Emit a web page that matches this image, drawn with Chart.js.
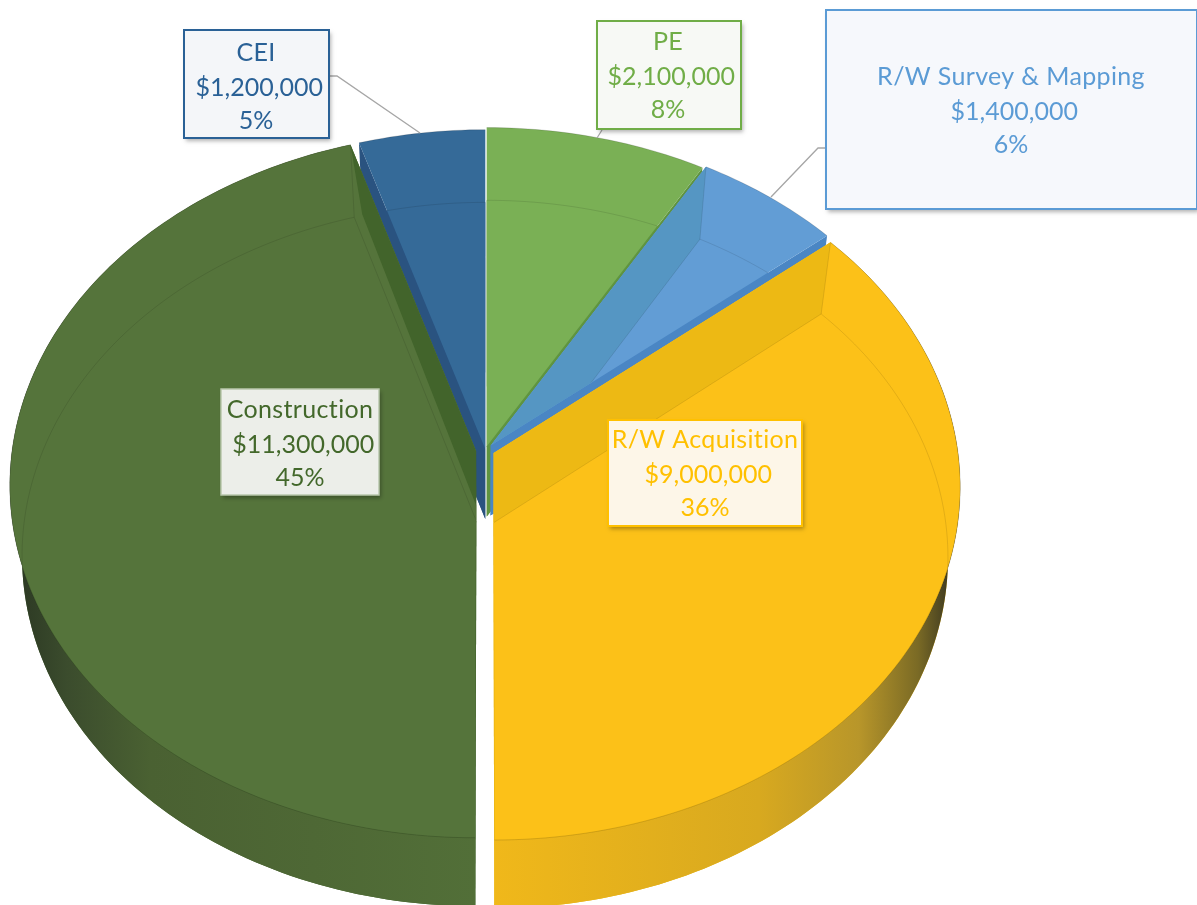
<!DOCTYPE html>
<html><head><meta charset="utf-8">
<style>html,body{margin:0;padding:0;background:#fff}canvas{display:block}</style>
<script src="https://cdn.jsdelivr.net/npm/chart.js@4"></script>
</head><body><canvas id="c" width="1197" height="905"></canvas>
<script>
const categories=['PE','R/W Survey & Mapping','R/W Acquisition','Construction','CEI'];
const costs=[2100000,1400000,9000000,11300000,1200000];
const faceColors=['#7AB055','#629DD5','#FCC118','#55743B','#356A98'];
const edgeColors=['#5F9440','#4A86C4','#ECB812','#43652B','#2A5380'];
const textColors=['#70AD47','#5B9BD5','#FFC000','#43682B','#2A6196'];
const boxFills=['#F7F9F5','#F6F8FC','#FDF6E8','#ECEEE9','#F4F6F9'];
const explode=[5,8,9,9.5,1.5];
const drawOrder=[4,0,1,2,3];
const boxes=[[597,21,144,108],[826,10,371,199],[608,420,194,106],[221,389,158,106],[184,30,145,108]];
const firstLineY=[42,77,440,410,53];
const textCenter=[668,1011,705,300,256];
const leaders=[[[602,130],[597,138]],[[826,148],[818,148],[771,197]],null,null,[[329,76],[337,76],[420,133]]];

const total=costs.reduce((a,b)=>a+b,0);
const money=v=>' $'+v.toLocaleString('en-US');

function pt(arc,plane,r,th){
  const R=arc.outerRadius,mid=(arc.startAngle+arc.endAngle)/2,off=arc.options.offset||0;
  const u=(r*Math.cos(th)+off*Math.cos(mid))/R, v=-(r*Math.sin(th)+off*Math.sin(mid))/R;
  if(plane==='top'){const w=1+0.095*v;return [arc.x+R*u/w,(arc.y-307*v)/w];}
  const w=1+0.097*v;return [arc.x+0.974*R*u/w,(arc.y+70-297*v)/w];
}
function rimPts(arc,plane,a0,a1){
  const n=Math.max(4,Math.ceil(Math.abs(a1-a0)/0.02)),o=[];
  for(let i=0;i<=n;i++)o.push(pt(arc,plane,arc.outerRadius,a0+(a1-a0)*i/n));
  return o;
}
function poly(ctx,ps){ctx.beginPath();ps.forEach((p,i)=>i?ctx.lineTo(p[0],p[1]):ctx.moveTo(p[0],p[1]));ctx.closePath();}
function slicePts(arc,plane){return [pt(arc,plane,0,arc.startAngle),...rimPts(arc,plane,arc.startAngle,arc.endAngle)];}
function edgeQuad(arc,ang,adj){
  const a=pt(arc,'top',0,ang),b=pt(arc,'top',arc.outerRadius,ang),c=pt(arc,'base',arc.outerRadius,ang),d=pt(arc,'base',0,ang);
  if(adj){c[0]+=adj[0];c[1]+=adj[1];d[0]+=adj[2];d[1]+=adj[3];}
  return [a,b,c,d];
}
const depthPlugin={id:'depth',beforeDatasetsDraw(chart){
  const ctx=chart.ctx,arcs=chart.getDatasetMeta(0).data;
  drawOrder.forEach(i=>{
    const arc=arcs[i],s=arc.startAngle,e=arc.endAngle;
    ctx.fillStyle=edgeColors[i];
    poly(ctx,slicePts(arc,'base'));ctx.fill();
    poly(ctx,edgeQuad(arc,s));ctx.fill();
    poly(ctx,edgeQuad(arc,e));ctx.fill();
    if(i===2||i===3){
      const g=ctx.createLinearGradient(i===3?11:950,0,i===3?476:494,0);
      if(i===3){g.addColorStop(0,'#2A3622');g.addColorStop(0.12,'#3B4C2D');g.addColorStop(0.3,'#4A6132');g.addColorStop(1,'#526F38');}
      else{g.addColorStop(0,'#3E3A20');g.addColorStop(0.07,'#7A6A25');g.addColorStop(0.2,'#B8962A');g.addColorStop(0.42,'#D8A91F');g.addColorStop(1,'#F0B81A');}
      ctx.fillStyle=g;
      poly(ctx,[...rimPts(arc,'top',s,e),...rimPts(arc,'base',e,s)]);ctx.fill();
    }
    ctx.fillStyle=faceColors[i];
    const face=slicePts(arc,'top');
    poly(ctx,face);ctx.fill();
    ctx.save();
    poly(ctx,face);ctx.clip();
    if(i===3){ctx.fillStyle='#42642B';poly(ctx,edgeQuad(arc,e,[8,-3,0,-15]));ctx.fill();}
    if(i===2){ctx.fillStyle='#EDB914';poly(ctx,edgeQuad(arc,s));ctx.fill();}
    if(i===1){ctx.fillStyle='#5596C3';poly(ctx,edgeQuad(arc,s));ctx.fill();}
    ctx.strokeStyle='rgba(0,0,0,0.10)';ctx.lineWidth=1;
    const base=slicePts(arc,'base');
    ctx.beginPath();
    if(i===0||i===4){base.slice(1).forEach((p,j)=>j?ctx.lineTo(p[0],p[1]):ctx.moveTo(p[0],p[1]));}
    else{base.forEach((p,j)=>j?ctx.lineTo(p[0],p[1]):ctx.moveTo(p[0],p[1]));ctx.closePath();}
    ctx.stroke();
    if(i===1||i===2||i===3){
      const ang=i===3?e:s,a=pt(arc,'top',arc.outerRadius,ang),b=pt(arc,'base',arc.outerRadius,ang);
      ctx.beginPath();ctx.moveTo(a[0],a[1]);ctx.lineTo(b[0],b[1]);ctx.stroke();
    }
    ctx.restore();
    ctx.strokeStyle='rgba(0,0,0,0.14)';ctx.lineWidth=1;
    ctx.beginPath();rimPts(arc,'top',s,e).forEach((p,j)=>j?ctx.lineTo(p[0],p[1]):ctx.moveTo(p[0],p[1]));ctx.stroke();
  });
  return false;
},afterDraw(chart){
  const ctx=chart.ctx;
  ctx.strokeStyle='#A6A6A6';ctx.lineWidth=1.3;
  leaders.forEach(l=>{if(!l)return;ctx.beginPath();l.forEach((p,j)=>j?ctx.lineTo(p[0],p[1]):ctx.moveTo(p[0],p[1]));ctx.stroke();});
  categories.forEach((name,i)=>{
    const [x,y,w,h]=boxes[i];
    ctx.save();
    ctx.shadowColor='rgba(0,0,0,0.3)';ctx.shadowBlur=4;ctx.shadowOffsetX=2;ctx.shadowOffsetY=3;
    ctx.fillStyle=boxFills[i];ctx.fillRect(x,y,w,h);
    ctx.shadowColor='transparent';
    ctx.strokeStyle=textColors[i];ctx.lineWidth=i===3?1.5:2;
    if(i===3)ctx.strokeStyle='#B9C7AC';
    ctx.strokeRect(x,y,w,h);
    ctx.restore();
    ctx.fillStyle=textColors[i];ctx.font='25px Lato';ctx.textAlign='center';ctx.textBaseline='middle';
    ctx.letterSpacing='0.35px';
    ctx.fillText(name,textCenter[i],firstLineY[i]);
    ctx.letterSpacing='0px';
    ctx.fillText(money(costs[i]),textCenter[i],firstLineY[i]+34.5);
    ctx.fillText(Math.round(costs[i]/total*100)+'%',textCenter[i],firstLineY[i]+68);
  });
}};
new Chart(document.getElementById('c'),{
  type:'pie',
  data:{labels:categories,datasets:[{data:costs,backgroundColor:faceColors,borderWidth:0,offset:explode,radius:464}]},
  options:{responsive:false,animation:false,layout:{padding:{right:226,bottom:5}},
    plugins:{legend:{display:false},tooltip:{enabled:false}}},
  plugins:[depthPlugin]
});
</script></body></html>
